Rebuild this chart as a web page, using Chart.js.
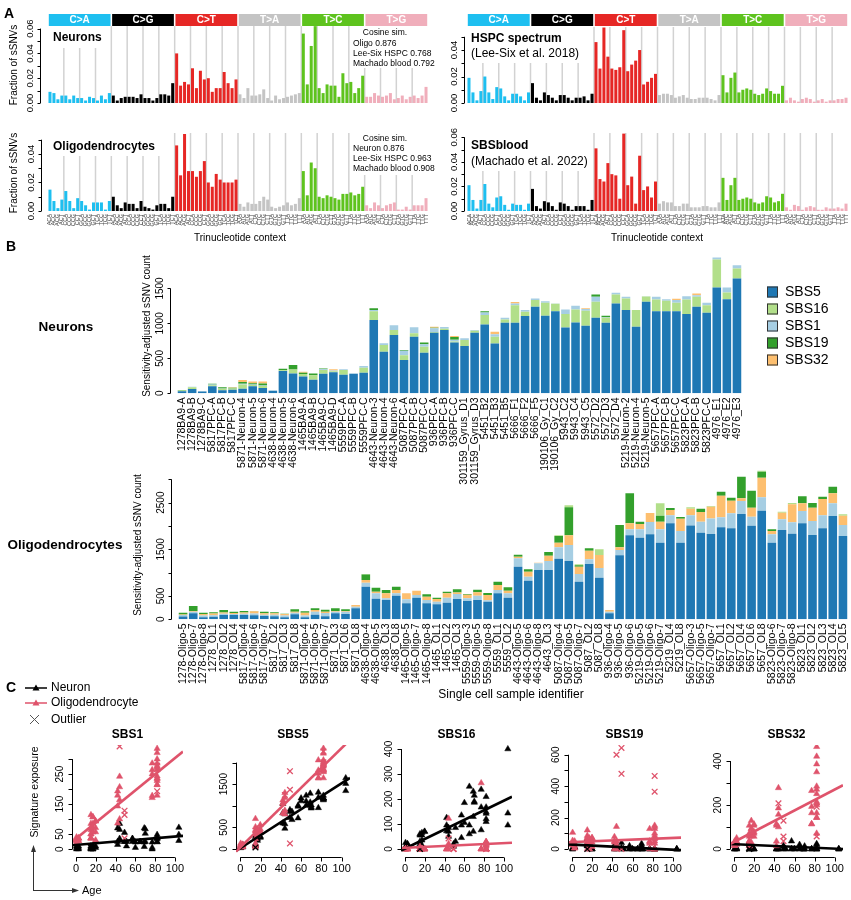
<!DOCTYPE html>
<html>
<head>
<meta charset="utf-8">
<title>Somatic SNV spectra and signatures</title>
<script src="https://cdn.jsdelivr.net/npm/chart.js"></script>
<style>
  body { margin: 0; background: #fff; }
  #wrap { position: relative; width: 851px; height: 900px; overflow: hidden; }
  #wrap canvas { position: absolute; left: 0; top: 0; }
</style>
</head>
<body>
<div id="wrap"></div>
<script>
// ---------- data ----------
const mutTypes = ['C>A', 'C>G', 'C>T', 'T>A', 'T>C', 'T>G'];
const mutColors = ['#1ebff0', '#000000', '#e62725', '#c4c4c4', '#5ec31e', '#f0aebb'];
const bases = ['A', 'C', 'G', 'T'];
const contexts = [];
mutTypes.forEach(m => bases.forEach(b5 => bases.forEach(b3 => contexts.push(b5 + m[0] + b3))));

// panel A spectra (fraction of sSNVs, 96 channels: C>A, C>G, C>T, T>A, T>C, T>G)
const neuronSpectrum = [
  0.009,0.008,0.003,0.006,0.006,0.003,0.006,0.004,0.004,0.002,0.005,0.004,0.002,0.006,0.003,0.008,
  0.006,0.002,0.004,0.005,0.005,0.005,0.004,0.007,0.004,0.004,0.002,0.004,0.007,0.007,0.006,0.016,
  0.040,0.014,0.017,0.015,0.028,0.012,0.026,0.019,0.020,0.009,0.012,0.012,0.025,0.016,0.012,0.019,
  0.007,0.004,0.012,0.006,0.006,0.007,0.011,0.004,0.002,0.006,0.003,0.004,0.005,0.006,0.007,0.008,
  0.056,0.015,0.046,0.062,0.012,0.008,0.015,0.014,0.014,0.005,0.024,0.016,0.017,0.008,0.012,0.022,
  0.005,0.005,0.008,0.006,0.005,0.006,0.008,0.003,0.004,0.006,0.003,0.005,0.006,0.004,0.006,0.013
];
const hspcSpectrum = [
  0.019,0.008,0.002,0.009,0.020,0.008,0.003,0.012,0.011,0.005,0.002,0.007,0.007,0.005,0.002,0.008,
  0.015,0.004,0.002,0.008,0.006,0.004,0.002,0.006,0.006,0.004,0.002,0.004,0.004,0.005,0.002,0.007,
  0.046,0.026,0.057,0.035,0.026,0.025,0.027,0.055,0.024,0.029,0.032,0.040,0.014,0.016,0.019,0.022,
  0.006,0.007,0.007,0.006,0.004,0.005,0.006,0.004,0.003,0.003,0.004,0.004,0.004,0.003,0.002,0.006,
  0.021,0.008,0.019,0.023,0.008,0.010,0.011,0.010,0.007,0.006,0.007,0.011,0.009,0.007,0.007,0.013,
  0.002,0.004,0.002,0.001,0.003,0.004,0.003,0.001,0.002,0.003,0.001,0.002,0.002,0.003,0.003,0.004
];
const oligoSpectrum = [
  0.015,0.007,0.002,0.008,0.014,0.007,0.002,0.009,0.007,0.004,0.001,0.006,0.006,0.006,0.001,0.007,
  0.010,0.004,0.002,0.006,0.005,0.005,0.002,0.007,0.003,0.002,0.001,0.004,0.005,0.005,0.002,0.010,
  0.046,0.025,0.054,0.028,0.028,0.024,0.028,0.035,0.020,0.017,0.026,0.022,0.020,0.020,0.020,0.022,
  0.005,0.003,0.006,0.005,0.005,0.007,0.010,0.008,0.003,0.002,0.003,0.004,0.006,0.004,0.005,0.009,
  0.028,0.011,0.034,0.030,0.010,0.009,0.011,0.010,0.009,0.008,0.012,0.012,0.013,0.011,0.012,0.017,
  0.004,0.002,0.006,0.004,0.002,0.004,0.005,0.006,0.001,0.001,0.003,0.001,0.004,0.004,0.004,0.009
];
const bloodSpectrum = [
  0.021,0.009,0.002,0.009,0.022,0.006,0.003,0.011,0.012,0.005,0.001,0.006,0.005,0.005,0.001,0.006,
  0.018,0.004,0.002,0.008,0.007,0.004,0.001,0.007,0.006,0.004,0.001,0.004,0.004,0.004,0.001,0.009,
  0.051,0.026,0.024,0.039,0.030,0.029,0.010,0.063,0.021,0.028,0.006,0.045,0.017,0.020,0.011,0.024,
  0.006,0.008,0.007,0.007,0.004,0.004,0.006,0.006,0.003,0.003,0.003,0.004,0.004,0.003,0.003,0.007,
  0.027,0.009,0.021,0.027,0.009,0.010,0.011,0.010,0.007,0.006,0.007,0.012,0.011,0.007,0.008,0.014,
  0.003,0.001,0.005,0.004,0.001,0.003,0.004,0.003,0.001,0.001,0.003,0.002,0.002,0.003,0.002,0.006
];
const fracTicks6 = [0, 0.01, 0.02, 0.03, 0.04, 0.05, 0.06];
const fracLabels6 = ['0.00', '', '0.02', '', '0.04', '', '0.06'];
const fracTicks5 = [0, 0.01, 0.02, 0.03, 0.04, 0.05];
const fracLabels5 = ['0.00', '', '0.02', '', '0.04', ''];

// panel B: signatures
const sigNames = ['SBS5', 'SBS16', 'SBS1', 'SBS19', 'SBS32'];
const sigColors = ['#1f78b4', '#b2df8a', '#a6cee3', '#33a02c', '#fdbf6f'];

const neuronSamples = ['1278BA9-A','1278BA9-B','1278BA9-C','5817PFC-A','5817PFC-B','5817PFC-C',
  '5871-Neuron-4','5871-Neuron-5','5871-Neuron-6','4638-Neuron-4','4638-Neuron-5','4638-Neuron-6',
  '1465BA9-A','1465BA9-B','1465BA9-C','1465BA9-D','5559PFC-A','5559PFC-B','5559PFC-C',
  '4643-Neuron-3','4643-Neuron-4','4643-Neuron-6','5087PFC-A','5087PFC-B','5087PFC-C',
  '936PFC-A','936PFC-B','936PFC-C','301159_Gyrus_D1','301159_Gyrus_D3','5451_B2','5451_B3','5451_B5',
  '5666_F1','5666_F2','5666_F5','190106_Gy_C1','190106_Gy_C2','5943_C2','5943_C4','5943_C5',
  '5572_D2','5572_D3','5572_D4','5219-Neuron-2','5219-Neuron-4','5219-Neuron-5',
  '5657PFC-A','5657PFC-B','5657PFC-C','5823PFC-A','5823PFC-B','5823PFC-C','4976_E1','4976_E2','4976_E3'];
const neuronSBS5 = [30,60,25,100,45,50,65,100,75,35,320,285,240,195,278,300,265,280,295,1050,595,833,475,810,580,
  866,905,725,676,866,985,714,1010,1010,1105,1238,1110,1175,943,1014,966,1080,1010,1285,1190,952,1309,
  1175,1175,1175,1133,1238,1152,1514,1347,1642];
const neuronSBS16 = [10,25,0,15,20,20,60,20,30,0,10,55,35,65,55,15,70,0,70,125,95,72,70,50,85,
  10,20,15,85,30,135,95,45,250,60,95,185,105,190,186,214,230,70,129,167,238,76,
  167,148,120,209,142,109,400,95,143];
const neuronSBS1 = [0,10,5,10,5,0,10,5,5,5,0,0,0,0,10,10,10,5,25,15,25,70,65,85,35,
  55,25,25,25,10,35,35,25,25,25,24,23,5,67,52,25,70,8,23,23,0,5,
  38,24,38,48,24,34,28,72,48];
const neuronSBS19 = [8,0,0,10,15,10,25,20,30,0,20,65,20,25,12,0,0,0,0,25,0,0,10,0,25,
  8,0,40,0,0,20,0,0,0,0,0,0,0,0,0,0,34,22,0,0,0,0,
  0,0,0,0,0,0,0,0,0];
const neuronSBS32 = [0,0,0,0,0,5,30,25,30,0,0,0,15,0,0,20,0,0,0,0,0,0,0,0,0,
  12,0,15,0,0,0,36,0,20,0,0,0,0,0,0,13,0,0,0,0,0,0,
  0,0,19,0,24,0,0,0,0];

const oligoSamples = ['1278-Oligo-5','1278-Oligo-7','1278-Oligo-8','1278_OL1','1278_OL2','1278_OL4',
  '5817-Oligo-4','5817-Oligo-6','5817-Oligo-7','5817_OL2','5817_OL3','5817_OL8',
  '5871-Oligo-4','5871-Oligo-5','5871-Oligo-7','5871_OL3','5871_OL6','5871_OL8',
  '4638-Oligo-4','4638-Oligo-5','4638_OL3','4638_OL8',
  '1465-Oligo-5','1465-Oligo-7','1465-Oligo-8','1465_OL1','1465_OL2','1465_OL3',
  '5559-Oligo-3','5559-Oligo-5','5559-Oligo-8','5559_OL1','5559_OL2',
  '4643-Oligo-5','4643-Oligo-6','4643-Oligo-8','4643_OL3',
  '5087-Oligo-4','5087-Oligo-5','5087-Oligo-7','5087_OL2','5087_OL8',
  '936-Oligo-4','936-Oligo-5','936-Oligo-6',
  '5219-Oligo-5','5219-Oligo-6','5219-Oligo-7','5219_OL4','5219_OL8',
  '5657-Oligo-3','5657-Oligo-5','5657-Oligo-7','5657_OL1','5657_OL2','5657_OL4','5657_OL6','5657_OL8',
  '5823-Oligo-6','5823-Oligo-7','5823-Oligo-8','5823_OL1','5823_OL2','5823_OL3','5823_OL4','5823_OL5'];
const oligoSBS5 = [60,128,43,57,93,93, 93,86,71,64,43,107, 43,100,64,128,114,235, 700,443,414,507,
  343,464,343,321,357,436, 393,414,378,557,464, 1128,828,1057,1057, 1300,1250,807,1185,893,
  128,1371,1800, 1750,1821,1642,2057,1642, 2013,1857,1828,1971,1950,2257,2007,2328,
  1642,1914,1835,2057,1807,1950,2214,1785];
const oligoSBS1 = [30,35,40,30,28,22, 28,36,28,36,36,36, 36,64,71,36,50,36, 85,114,36,50,
  85,57,71,57,107,107, 57,93,30,71,93, 179,86,143,193, 242,342,164,100,207,
  36,114,128, 178,264,286,171,250, 215,235,335,214,321,278,193,286,
  179,228,243,264,300,278,271,236];
const oligoSBS32 = [15,15,30,35,25,20, 25,50,30,30,36,21, 64,36,29,14,14,36, 57,36,107,71,
  129,93,72,58,93,30, 78,71,113,107,57, 35,107,14,114, 100,208,157,186,278,
  36,57,129, 114,193,164,114,265, 143,208,251,465,271,57,192,421,
  71,143,386,164,285,350,215,200];
const oligoSBS19 = [35,105,30,28,54,29, 32,6,35,20,6,50, 28,35,43,57,36,0, 120,85,71,72,
  0,0,50,28,36,70, 15,57,43,72,71, 43,50,0,78, 143,600,29,50,0,
  0,479,643, 50,0,129,43,35, 0,71,0,85,65,465,365,129,
  36,0,0,150,100,50,142,0];
const oligoSBS16 = [0,0,0,0,0,0, 0,0,0,0,0,0, 0,0,0,0,0,0, 10,0,0,0,
  0,0,0,0,0,0, 0,0,0,0,0, 0,0,0,0, 15,42,21,0,122,
  0,0,0, 0,0,264,0,0, 29,0,14,0,0,0,0,21,
  0,22,28,0,0,0,0,29];
const neuronTicks = [0, 500, 1000, 1500];
const neuronTickLabels = ['0', '500', '1000', '1500'];
const oligoTicks = [0, 500, 1000, 1500, 2000, 2500, 3000];
const oligoTickLabels = ['0', '500', '', '1500', '', '2500', ''];

// panel C: donor ages, outlier cells, fitted lines (read at age -4.2 and 108.2)
const donors = [1278, 5817, 5871, 4638, 1465, 5559, 4643, 5087, 936, 301159, 5451, 5666, 190106, 5943, 5572, 5219, 5657, 5823, 4976];
const donorAges = [0.4, 2.4, 15, 15, 17, 19.7, 42, 44, 49, 51, 57, 65, 60, 70, 69, 77, 82, 82, 104];
const neuronOutliers = ['4638-Neuron-4'];
const oligoOutliers = ['5087-Oligo-5', '936-Oligo-4', '936-Oligo-5', '936-Oligo-6', '5657_OL4', '5657_OL6'];
const scatterSigs = ['SBS1', 'SBS5', 'SBS16', 'SBS19', 'SBS32'];
const fitAges = [-4.2, 108.2];
const fitNeuronStart = [13, -47, -6, 30, 23];
const fitNeuronEnd = [44, 1646, 209, -7, 0];
const fitOligoStart = [24, -60, 4, 43, 23];
const fitOligoEnd = [325, 2525, 25, 73, 290];
const ageTicks = [0, 20, 40, 60, 80, 100];
const expTicks = [[0, 50, 100, 150, 200, 250, 300], [0, 500, 1000, 1500, 2000], [0, 100, 200, 300, 400],
  [0, 100, 200, 300, 400, 500, 600], [0, 100, 200, 300, 400]];
const expLabels = [['0', '50', '', '150', '', '250', ''], ['0', '500', '', '1500', ''], ['0', '100', '200', '300', '400'],
  ['0', '', '200', '', '400', '', '600'], ['0', '', '200', '', '400']];

// ---------- helpers ----------
const FONT = '"Liberation Sans", Arial, Helvetica, sans-serif';
const PINK = '#df536b';
const W = 851, H = 900;
const wrap = document.getElementById('wrap');

function newCanvas() {
  const c = document.createElement('canvas');
  c.width = W; c.height = H;
  c.style.width = W + 'px'; c.style.height = H + 'px';
  wrap.appendChild(c);
  return c;
}

function baseOptions(area, x, y) {
  return {
    responsive: false, animation: false, devicePixelRatio: 1, events: [],
    layout: { padding: { left: area.l, right: W - area.r, top: area.t, bottom: H - area.b } },
    plugins: { legend: { display: false }, tooltip: { enabled: false } },
    scales: { x: Object.assign({ display: false }, x), y: Object.assign({ display: false }, y) }
  };
}

function txt(ctx, s, x, y, o) {
  o = o || {};
  ctx.save();
  ctx.font = (o.bold ? 'bold ' : '') + (o.size || 11) + 'px ' + FONT;
  ctx.fillStyle = o.color || '#000';
  ctx.textAlign = o.align || 'left';
  ctx.textBaseline = o.base || 'middle';
  ctx.translate(x, y);
  if (o.rot) ctx.rotate(o.rot);
  ctx.fillText(s, 0, 0);
  ctx.restore();
}

// R-style axes: line only between first and last tick, rotated y labels
function axisY(chart, ticks, labels, o) {
  const ctx = chart.ctx, ys = chart.scales.y, tl = o.tl || 4;
  const x0 = Math.round(chart.chartArea.left - o.off) + 0.5;
  ctx.save();
  ctx.strokeStyle = '#000'; ctx.lineWidth = 1;
  ctx.beginPath();
  ctx.moveTo(x0, ys.getPixelForValue(ticks[0]));
  ctx.lineTo(x0, ys.getPixelForValue(ticks[ticks.length - 1]));
  ticks.forEach(t => {
    const p = Math.round(ys.getPixelForValue(t)) + 0.5;
    ctx.moveTo(x0, p); ctx.lineTo(x0 - tl, p);
  });
  ctx.stroke();
  ctx.restore();
  ticks.forEach((t, i) => {
    if (labels[i]) txt(ctx, labels[i], x0 - tl - (o.gap || 2), ys.getPixelForValue(t),
      { size: o.size, rot: -Math.PI / 2, align: 'center', base: 'bottom' });
  });
}

function axisX(chart, ticks, o) {
  const ctx = chart.ctx, xs = chart.scales.x, tl = o.tl || 4;
  const y0 = Math.round(chart.chartArea.bottom + o.off) + 0.5;
  ctx.save();
  ctx.strokeStyle = '#000'; ctx.lineWidth = 1;
  ctx.beginPath();
  ctx.moveTo(xs.getPixelForValue(ticks[0]), y0);
  ctx.lineTo(xs.getPixelForValue(ticks[ticks.length - 1]), y0);
  ticks.forEach(t => {
    const p = Math.round(xs.getPixelForValue(t)) + 0.5;
    ctx.moveTo(p, y0); ctx.lineTo(p, y0 + tl);
  });
  ctx.stroke();
  ctx.restore();
  ticks.forEach(t => txt(ctx, String(t), xs.getPixelForValue(t), y0 + tl + 2, { size: o.size, align: 'center', base: 'top' }));
}

function decor(before, after) {
  return {
    id: 'decor',
    beforeDatasetsDraw(c) { if (before) before(c, c.ctx, c.chartArea); },
    afterDraw(c) { if (after) after(c, c.ctx, c.chartArea); }
  };
}

// ---------- panel A ----------
function spectrum(values, area, ymax, yTicks, yLabels, spec) {
  new Chart(newCanvas(), {
    type: 'bar',
    data: {
      labels: contexts,
      datasets: [{ data: values, backgroundColor: contexts.map((s, i) => mutColors[Math.floor(i / 16)]),
        barPercentage: 0.76, categoryPercentage: 1 }]
    },
    options: baseOptions(area, { offset: true }, { min: 0, max: ymax }),
    plugins: [decor((c, ctx, a) => {
      const xs = c.scales.x;
      ctx.save();
      ctx.strokeStyle = '#d2d2d2'; ctx.lineWidth = 1.5;
      for (let k = 4; k < contexts.length; k += 4) {
        const px = (xs.getPixelForValue(k - 1) + xs.getPixelForValue(k)) / 2;
        ctx.beginPath(); ctx.moveTo(px, a.bottom); ctx.lineTo(px, a.top); ctx.stroke();
      }
      ctx.fillStyle = '#fff';
      spec.boxes.forEach(b => ctx.fillRect(b[0], b[1], b[2] - b[0], b[3] - b[1]));
      ctx.restore();
      spec.texts.forEach(t => txt(ctx, t[0], t[1], t[2], t[3]));
    }, (c, ctx, a) => {
      const xs = c.scales.x;
      const half = (xs.getPixelForValue(1) - xs.getPixelForValue(0)) / 2;
      if (spec.header) {
        mutTypes.forEach((m, j) => {
          const x0 = xs.getPixelForValue(16 * j) - half + 0.8;
          const x1 = xs.getPixelForValue(16 * j + 15) + half - 0.8;
          ctx.fillStyle = mutColors[j];
          ctx.fillRect(x0, 14, x1 - x0, 12);
          txt(ctx, m, (x0 + x1) / 2, 20.5, { size: 10, bold: true, color: '#fff', align: 'center' });
        });
      }
      axisY(c, yTicks, yLabels, { off: spec.axisOff, size: 9.5, tl: 3, gap: 2 });
      if (spec.xLabels) {
        contexts.forEach((s, i) => txt(ctx, s, xs.getPixelForValue(i), a.bottom + 3,
          { size: 5.5, rot: -Math.PI / 2, align: 'right', color: '#444' }));
      }
      (spec.page || []).forEach(t => txt(ctx, t[0], t[1], t[2], t[3]));
    })]
  });
}

const small = { size: 8.5 };
spectrum(neuronSpectrum, { l: 48, r: 428, t: 26, b: 103 }, 0.0621, fracTicks6, fracLabels6, {
  header: true, axisOff: 8,
  boxes: [[50, 26, 106, 48], [351, 26, 434, 68]],
  texts: [['Neurons', 53, 38, { size: 12, bold: true }], ['Cosine sim.', 385, 33, { size: 8.5, align: 'center' }],
    ['Oligo 0.876', 353, 43.5, small], ['Lee-Six HSPC 0.768', 353, 53.5, small], ['Machado blood 0.792', 353, 63.5, small]],
  page: [['A', 4, 14, { size: 14, bold: true }], ['Fraction of sSNVs', 14, 65, { size: 10, rot: -Math.PI / 2, align: 'center' }]]
});
spectrum(hspcSpectrum, { l: 467, r: 848, t: 27, b: 103 }, 0.0574, fracTicks5, fracLabels5, {
  header: true, axisOff: 3,
  boxes: [[466, 27, 590, 63]],
  texts: [['HSPC spectrum', 471, 39, { size: 12, bold: true }], ['(Lee-Six et al. 2018)', 471, 54, { size: 12 }]]
});
spectrum(oligoSpectrum, { l: 48, r: 428, t: 133, b: 211 }, 0.0547, fracTicks5, fracLabels5, {
  axisOff: 7, xLabels: true,
  boxes: [[50, 133, 162, 156], [351, 133, 434, 175]],
  texts: [['Oligodendrocytes', 53, 147, { size: 12, bold: true }], ['Cosine sim.', 385, 139, { size: 8.5, align: 'center' }],
    ['Neuron 0.876', 353, 149, small], ['Lee-Six HSPC 0.963', 353, 159, small], ['Machado blood 0.908', 353, 169, small]],
  page: [['Fraction of sSNVs', 14, 173, { size: 10, rot: -Math.PI / 2, align: 'center' }],
    ['Trinucleotide context', 240, 238, { size: 10, align: 'center' }]]
});
spectrum(bloodSpectrum, { l: 467, r: 848, t: 133, b: 211 }, 0.0635, fracTicks6, fracLabels6, {
  axisOff: 3, xLabels: true,
  boxes: [[466, 133, 592, 171]],
  texts: [['SBSblood', 471, 146, { size: 12, bold: true }], ['(Machado et al. 2022)', 471, 161.5, { size: 12 }]],
  page: [['Trinucleotide context', 657, 238, { size: 10, align: 'center' }]]
});

// ---------- panel B ----------
function stacked(samples, series, names, area, ymax, ticks, tickLabels, spec) {
  new Chart(newCanvas(), {
    type: 'bar',
    data: {
      labels: samples,
      datasets: series.map((d, i) => ({ label: names[i], data: d, backgroundColor: sigColors[sigNames.indexOf(names[i])],
        barPercentage: 0.85, categoryPercentage: 1 }))
    },
    options: baseOptions(area, { stacked: true, offset: true }, { stacked: true, min: 0, max: ymax }),
    plugins: [decor(null, (c, ctx, a) => {
      const xs = c.scales.x;
      axisY(c, ticks, tickLabels, { off: 7, size: 10, tl: 3, gap: 2 });
      samples.forEach((s, i) => txt(ctx, s, xs.getPixelForValue(i), a.bottom + 4,
        { size: 10.5, rot: -Math.PI / 2, align: 'right' }));
      spec.page.forEach(t => txt(ctx, t[0], t[1], t[2], t[3]));
      if (spec.legend) {
        c.data.datasets.forEach((d, i) => {
          const y = 292 + i * 17;
          ctx.fillStyle = d.backgroundColor;
          ctx.fillRect(767, y - 5.5, 11, 11);
          ctx.strokeStyle = '#333'; ctx.lineWidth = 1;
          ctx.strokeRect(767.5, y - 5, 10, 10);
          txt(ctx, d.label, 785, y, { size: 14 });
        });
      }
    })]
  });
}

stacked(neuronSamples, [neuronSBS5, neuronSBS16, neuronSBS1, neuronSBS19, neuronSBS32],
  ['SBS5', 'SBS16', 'SBS1', 'SBS19', 'SBS32'], { l: 177, r: 742, t: 253.5, b: 393.3 }, 2000,
  neuronTicks, neuronTickLabels, {
    legend: true,
    page: [['B', 6, 247, { size: 14, bold: true }], ['Neurons', 66, 327, { size: 13.5, bold: true, align: 'center' }],
      ['Sensitivity-adjusted sSNV count', 147, 326, { size: 10, rot: -Math.PI / 2, align: 'center' }]]
  });
stacked(oligoSamples, [oligoSBS5, oligoSBS1, oligoSBS32, oligoSBS19, oligoSBS16],
  ['SBS5', 'SBS1', 'SBS32', 'SBS19', 'SBS16'], { l: 178, r: 848, t: 470, b: 619.3 }, 3200,
  oligoTicks, oligoTickLabels, {
    page: [['Oligodendrocytes', 65, 545, { size: 13.5, bold: true, align: 'center' }],
      ['Sensitivity-adjusted sSNV count', 138, 545, { size: 10, rot: -Math.PI / 2, align: 'center' }],
      ['Single cell sample identifier', 511, 695, { size: 12, align: 'center' }]]
  });

// ---------- panel C ----------
const neuronBySig = { SBS1: neuronSBS1, SBS5: neuronSBS5, SBS16: neuronSBS16, SBS19: neuronSBS19, SBS32: neuronSBS32 };
const oligoBySig = { SBS1: oligoSBS1, SBS5: oligoSBS5, SBS16: oligoSBS16, SBS19: oligoSBS19, SBS32: oligoSBS32 };
const ageOf = s => donorAges[donors.indexOf(parseInt(s, 10))];

function points(samples, vals, outliers, wantOut) {
  return samples.map((s, i) => ({ x: ageOf(s), y: vals[i], out: outliers.includes(s) }))
    .filter(p => p.out === wantOut);
}

function panelCExtras(ctx) {
  txt(ctx, 'C', 6, 688, { size: 14, bold: true });
  [['Neuron', '#000', 688], ['Oligodendrocyte', PINK, 703]].forEach(([s, col, y]) => {
    ctx.save();
    ctx.strokeStyle = col; ctx.fillStyle = col; ctx.lineWidth = 1.5;
    ctx.beginPath(); ctx.moveTo(25, y); ctx.lineTo(47, y); ctx.stroke();
    ctx.beginPath(); ctx.moveTo(36, y - 3.5); ctx.lineTo(39.5, y + 2.5); ctx.lineTo(32.5, y + 2.5); ctx.closePath(); ctx.fill();
    ctx.restore();
    txt(ctx, s, 51, y, { size: 12 });
  });
  ctx.save();
  ctx.strokeStyle = '#555'; ctx.lineWidth = 1;
  ctx.beginPath(); ctx.moveTo(30, 715); ctx.lineTo(39, 724); ctx.moveTo(39, 715); ctx.lineTo(30, 724); ctx.stroke();
  ctx.restore();
  txt(ctx, 'Outlier', 51, 720, { size: 12 });
  txt(ctx, 'Signature exposure', 35, 792, { size: 10.5, rot: -Math.PI / 2, align: 'center' });
  ctx.save();
  ctx.strokeStyle = '#333'; ctx.fillStyle = '#333'; ctx.lineWidth = 1;
  ctx.beginPath(); ctx.moveTo(33.5, 891); ctx.lineTo(33.5, 850); ctx.moveTo(33.5, 890.5); ctx.lineTo(74, 890.5); ctx.stroke();
  ctx.beginPath(); ctx.moveTo(33.5, 845); ctx.lineTo(31, 852); ctx.lineTo(36, 852); ctx.closePath(); ctx.fill();
  ctx.beginPath(); ctx.moveTo(79, 890.5); ctx.lineTo(72, 888); ctx.lineTo(72, 893); ctx.closePath(); ctx.fill();
  ctx.restore();
  txt(ctx, 'Age', 82, 891, { size: 11 });
}

function scatterPanel(k, area, yMin, yMax) {
  const sig = scatterSigs[k];
  const tri = { pointStyle: 'triangle', pointRadius: 3.6, borderWidth: 0.5, showLine: false };
  const cross = { pointStyle: 'crossRot', pointRadius: 4, borderWidth: 1.3, showLine: false };
  const fitLine = (start, end, col) => ({ data: [{ x: fitAges[0], y: start }, { x: fitAges[1], y: end }],
    showLine: true, borderColor: col, borderWidth: 2.6, pointRadius: 0, order: 0 });
  new Chart(newCanvas(), {
    type: 'scatter',
    data: {
      datasets: [
        fitLine(fitOligoStart[k], fitOligoEnd[k], PINK),
        fitLine(fitNeuronStart[k], fitNeuronEnd[k], '#000'),
        Object.assign({ data: points(neuronSamples, neuronBySig[sig], neuronOutliers, false),
          backgroundColor: '#000', borderColor: '#000', order: 3 }, tri),
        Object.assign({ data: points(oligoSamples, oligoBySig[sig], oligoOutliers, false),
          backgroundColor: PINK, borderColor: PINK, order: 2 }, tri),
        Object.assign({ data: points(neuronSamples, neuronBySig[sig], neuronOutliers, true),
          borderColor: '#000', order: 1 }, cross),
        Object.assign({ data: points(oligoSamples, oligoBySig[sig], oligoOutliers, true),
          borderColor: PINK, order: 1 }, cross)
      ]
    },
    options: baseOptions(area, { type: 'linear', min: fitAges[0], max: fitAges[1] }, { type: 'linear', min: yMin, max: yMax }),
    plugins: [decor(null, (c, ctx, a) => {
      axisY(c, expTicks[k], expLabels[k], { off: 0, size: 10, tl: 4, gap: 3 });
      axisX(c, ageTicks, { off: 4, size: 11, tl: 4 });
      txt(ctx, sig, (a.left + a.right) / 2, 735, { size: 12, bold: true, align: 'center' });
      if (k === 0) panelCExtras(ctx);
    })]
  });
}

scatterPanel(0, { l: 72, r: 183, t: 745, b: 853 }, -13, 347);
scatterPanel(1, { l: 236, r: 350, t: 745, b: 853 }, -93, 2407);
scatterPanel(2, { l: 401, r: 512, t: 745, b: 853 }, -16, 416);
scatterPanel(3, { l: 568, r: 681, t: 745, b: 853 }, -25, 662);
scatterPanel(4, { l: 730, r: 843, t: 745, b: 853 }, -18, 473);
</script>
</body>
</html>
